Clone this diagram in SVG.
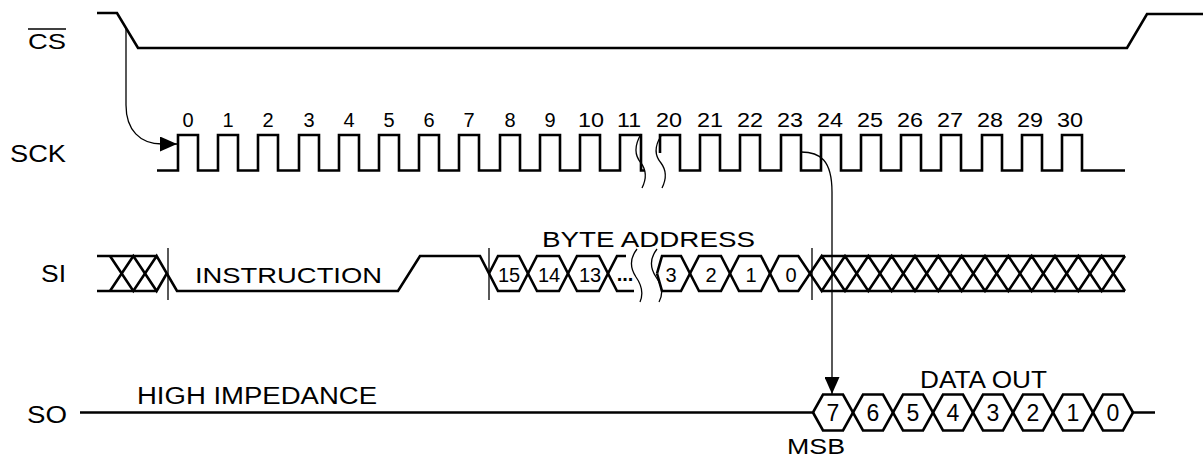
<svg xmlns="http://www.w3.org/2000/svg" width="1203" height="459" viewBox="0 0 1203 459">
<style>
.sig{fill:none;stroke:#000;stroke-width:2.6;stroke-linejoin:miter;stroke-linecap:butt}
.thin{fill:none;stroke:#000;stroke-width:1.3}
.t{font-family:"Liberation Sans",Arial,Helvetica,sans-serif;fill:#000}
.lbl{font-size:23px}
.num{font-size:20px;text-anchor:middle}
.dig{font-size:23px;text-anchor:middle}
</style>
<defs>
<marker id="ah" markerUnits="userSpaceOnUse" markerWidth="17" markerHeight="15" viewBox="0 0 17 15" refX="17" refY="7.5" orient="auto">
<path d="M0,0 L17,7.5 L0,15 Z" fill="#000"/>
</marker>
</defs>
<rect width="1203" height="459" fill="#fff"/>

<g id="cs">
<text class="t" x="28" y="49" font-size="22" textLength="38" lengthAdjust="spacingAndGlyphs">CS</text>
<line x1="28" y1="29" x2="66" y2="29" stroke="#000" stroke-width="1.6"/>
<path class="sig" d="M97,13 H117 L138,48 H1127 L1147,14 H1203"/>
</g>

<g id="sck">
<text class="t" x="10" y="162" font-size="24" textLength="56" lengthAdjust="spacingAndGlyphs">SCK</text>
<path class="sig" d="M157,170.5 H178 V135 H198 V170.5 H218 V135 H238 V170.5 H258 V135 H278 V170.5 H299 V135 H319 V170.5 H339 V135 H359 V170.5 H379 V135 H399 V170.5 H419 V135 H439 V170.5 H459 V135 H479 V170.5 H500 V135 H520 V170.5 H540 V135 H560 V170.5 H580 V135 H600 V170.5 H620 V135 H641 V170.5 H645"/>
<path class="sig" d="M660,153 V135 H680 V170.5 H700 V135 H720 V170.5 H740 V135 H760 V170.5 H781 V135 H801 V170.5 H821 V135 H841 V170.5 H861 V135 H881 V170.5 H901 V135 H921 V170.5 H941 V135 H961 V170.5 H982 V135 H1002 V170.5 H1022 V135 H1042 V170.5 H1062 V135 H1082 V170.5 H1125"/>
<path class="thin" d="M641,134 C634,146 635,156 641,163 C647,171 646,180 642,188"/>
<path class="thin" d="M661,136 C654,147 655,156 661,163 C667,171 666,180 662,188"/>
<g class="t num">
<text x="188" y="127">0</text>
<text x="228" y="127">1</text>
<text x="268" y="127">2</text>
<text x="309" y="127">3</text>
<text x="349" y="127">4</text>
<text x="389" y="127">5</text>
<text x="429" y="127">6</text>
<text x="469" y="127">7</text>
<text x="510" y="127">8</text>
<text x="550" y="127">9</text>
<text x="591" y="127" textLength="26" lengthAdjust="spacingAndGlyphs">10</text>
<text x="629" y="127" textLength="24" lengthAdjust="spacingAndGlyphs">11</text>
<text x="669" y="127" textLength="26" lengthAdjust="spacingAndGlyphs">20</text>
<text x="710" y="127" textLength="26" lengthAdjust="spacingAndGlyphs">21</text>
<text x="750" y="127" textLength="26" lengthAdjust="spacingAndGlyphs">22</text>
<text x="790" y="127" textLength="26" lengthAdjust="spacingAndGlyphs">23</text>
<text x="830" y="127" textLength="26" lengthAdjust="spacingAndGlyphs">24</text>
<text x="870" y="127" textLength="26" lengthAdjust="spacingAndGlyphs">25</text>
<text x="910" y="127" textLength="26" lengthAdjust="spacingAndGlyphs">26</text>
<text x="950" y="127" textLength="26" lengthAdjust="spacingAndGlyphs">27</text>
<text x="990" y="127" textLength="26" lengthAdjust="spacingAndGlyphs">28</text>
<text x="1030" y="127" textLength="26" lengthAdjust="spacingAndGlyphs">29</text>
<text x="1070" y="127" textLength="26" lengthAdjust="spacingAndGlyphs">30</text>
</g>
</g>

<g id="si">
<text class="t" x="41" y="282" font-size="23" textLength="25" lengthAdjust="spacingAndGlyphs">SI</text>
<path class="sig" d="M97,256 H156.67 M97,291 H156.67"/>
<path class="sig" d="M110,256 L133.33,291 L156.67,256 L177,291 H398 L420,256 H480 L498,291 H519 L537,256 H559 L577,291 H599 L617,256 H626"/>
<path class="sig" d="M110,291 L133.33,256 L156.67,291 L166.8,273.5"/>
<path class="sig" d="M489,273.5 L498,256 H519 L537,291 H559 L577,256 H599 L617,291 H634"/>
<path class="sig" d="M657,273.5 L662,256 H681 L699,291 H721 L739,256 H761 L779,291 H798.33 L821.67,256 L845,291 L868.33,256 L891.67,291 L915,256 L938.33,291 L961.67,256 L985,291 L1008.33,256 L1031.67,291 L1055,256 L1078.33,291 L1101.67,256 L1125,291"/>
<path class="sig" d="M657,273.5 L662,291 H681 L699,256 H721 L739,291 H761 L779,256 H798.33 L821.67,291 L845,256 L868.33,291 L891.67,256 L915,291 L938.33,256 L961.67,291 L985,256 L1008.33,291 L1031.67,256 L1055,291 L1078.33,256 L1101.67,291 L1125,256"/>
<path class="sig" d="M821.67,256 H1125 M821.67,291 H1125"/>
<path class="thin" d="M637,249 C630,258 630,268 636,277 C643,287 643,295 640,302"/>
<path class="thin" d="M657,249 C650,258 650,268 656,277 C663,287 663,295 659,302"/>
<text class="t" x="195" y="283" font-size="22" textLength="187" lengthAdjust="spacingAndGlyphs">INSTRUCTION</text>
<text class="t" x="542" y="247" font-size="22" textLength="213" lengthAdjust="spacingAndGlyphs">BYTE ADDRESS</text>
<g class="t" font-size="20" text-anchor="middle">
<text x="509" y="282">15</text>
<text x="549" y="282">14</text>
<text x="590" y="282">13</text>
<text x="671" y="282">3</text>
<text x="711" y="282">2</text>
<text x="751" y="282">1</text>
<text x="791" y="282">0</text>
</g>
<text class="t" x="625" y="281" font-size="20" font-weight="bold" text-anchor="middle">...</text>
</g>

<g id="so">
<text class="t" x="27" y="423" font-size="23" textLength="40" lengthAdjust="spacingAndGlyphs">SO</text>
<path class="sig" d="M80,412.5 H813 L823,394.5 H843 L863,430.5 H883 L903,394.5 H923 L943,430.5 H963 L983,394.5 H1003 L1023,430.5 H1043 L1063,394.5 H1083 L1103,430.5 H1123 L1133,412.5 H1155"/>
<path class="sig" d="M813,412.5 L823,430.5 H843 L863,394.5 H883 L903,430.5 H923 L943,394.5 H963 L983,430.5 H1003 L1023,394.5 H1043 L1063,430.5 H1083 L1103,394.5 H1123 L1133,412.5"/>
<text class="t" x="137" y="404" font-size="23" textLength="240" lengthAdjust="spacingAndGlyphs">HIGH IMPEDANCE</text>
<text class="t" x="920" y="388" font-size="23" textLength="127" lengthAdjust="spacingAndGlyphs">DATA OUT</text>
<text class="t" x="787" y="454" font-size="22" textLength="58" lengthAdjust="spacingAndGlyphs">MSB</text>
<g class="t dig">
<text x="833" y="421">7</text>
<text x="873" y="421">6</text>
<text x="913" y="421">5</text>
<text x="953" y="421">4</text>
<text x="993" y="421">3</text>
<text x="1033" y="421">2</text>
<text x="1073" y="421">1</text>
<text x="1113" y="421">0</text>
</g>
</g>

<g id="connectors">
<path class="thin" d="M126,28 V105 C126,130 140,144 162,144 L177,144" marker-end="url(#ah)"/>
<path class="thin" d="M801,152 C820,152 832,160 832,192 L832,394" marker-end="url(#ah)"/>
<path class="thin" d="M168,248 V300 M489,248 V300 M812,248 V300"/>
</g>
</svg>
